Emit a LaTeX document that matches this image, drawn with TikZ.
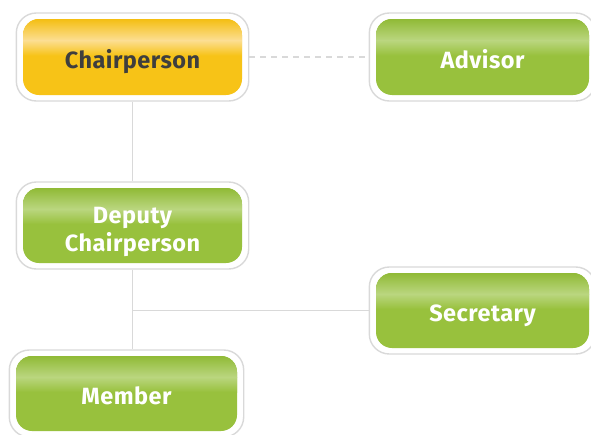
\documentclass[tikz,border=0pt]{standalone}
\usepackage{fontspec}
\setmainfont{Fira Sans}[LetterSpace=2]
\usepackage{tikz}
\usetikzlibrary{positioning, fit, backgrounds, calc}
\definecolor{rGreen}{HTML}{98C13D}
\definecolor{rGreenLt}{HTML}{BAD67F}
\definecolor{rGreenDk}{HTML}{90BA36}
\definecolor{rYellow}{HTML}{F7C317}
\definecolor{rYellowLt}{HTML}{FCDE92}
\definecolor{rYellowDk}{HTML}{F4BE12}
\definecolor{rFrame}{HTML}{D9D9D9}
\definecolor{rText}{HTML}{3E3E3E}
\tikzset{
  % flat colour with a light band near the top
  band/.style n args={3}{fill=#1, path picture={
      \coordinate (pa) at (path picture bounding box.north west);
      \coordinate (pb) at (path picture bounding box.south east);
      \shade[sharp corners, top color=#3, bottom color=#2] (pa) rectangle ($(pb |- pa)!0.28!(pb)$);
      \shade[sharp corners, top color=#2, bottom color=#1] ($(pa)!0.28!(pa |- pb)$) rectangle ($(pb |- pa)!0.48!(pb)$);
    }},
  role/.style={rectangle, rounded corners=16pt, minimum width=219pt, minimum height=76pt,
    inner sep=0pt, text height=22pt, text depth=0pt, text=white, band={rGreen}{rGreenLt}{rGreenDk}},
  chairrole/.style={role, band={rYellow}{rYellowLt}{rYellowDk}, text=rText},
  frame/.style={rectangle, rounded corners=20pt, draw=rFrame, line width=1.4pt, fill=white,
    inner xsep=6.5pt, inner ysep=5.8pt},
  link/.style={draw=rFrame, line width=1.2pt}
}

\begin{document}
\begin{tikzpicture}[x=1pt, y=-1pt, font=\fontsize{23.5}{28}\selectfont\bfseries]
  \useasboundingbox (0,0) rectangle (591,434);
  % roles
  \node[chairrole] (chair) at (132.5,57) {Chairperson};
  \node[role, minimum width=213pt] (advisor) at (482.5,57) {Advisor};
  \node[role, minimum height=75pt, align=center, text height=51pt, text depth=0pt]
    (deputy) at (132.5,225.5) {Deputy\\Chairperson};
  \node[role, minimum width=213pt, minimum height=75pt] (secretary) at (482.5,310.5) {Secretary};
  \node[role, minimum width=221pt, minimum height=75pt] (member) at (126.5,393.5) {Member};
  % white frames
  \begin{scope}[on background layer]
    \node[frame, fit=(chair)] (chairF) {};
    \node[frame, fit=(advisor)] (advisorF) {};
    \node[frame, fit=(deputy)] (deputyF) {};
    \node[frame, fit=(secretary)] (secretaryF) {};
    \node[frame, fit=(member)] (memberF) {};
  \end{scope}
  % lines
  \draw[link] (chairF.south) -- (deputyF.north);
  \draw[link] (deputyF.south) -- (deputyF.south |- memberF.north);
  \draw[link] (deputyF.south |- secretaryF.west) -- (secretaryF.west);
  \draw[link, dash pattern=on 6pt off 5pt] (chairF.east) -- (advisorF.west);
\end{tikzpicture}
\end{document}
